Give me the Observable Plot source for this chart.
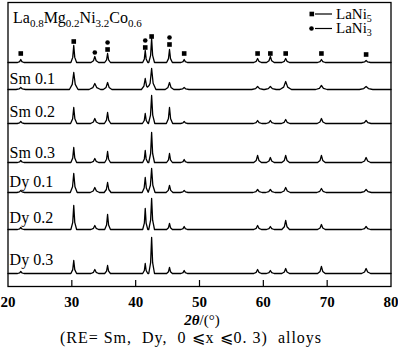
<!DOCTYPE html>
<html><head><meta charset="utf-8">
<script src="https://cdn.jsdelivr.net/npm/d3@7"></script>
<script src="https://cdn.jsdelivr.net/npm/@observablehq/plot@0.6"></script>
<style>
body{margin:0;background:#fff;}
#wrap{width:398px;height:358px;}
</style></head>
<body><div id="wrap"></div>
<script>
// peak positions (2θ, degrees) common to all patterns
const positions  = [22.0, 30.3, 33.6, 35.6, 41.5, 42.5, 45.3, 47.6, 59.1, 61.1, 63.5, 69.1, 76.1];
const halfWidths = [0.5, 0.45, 0.6, 0.45, 0.4, 0.45, 0.45, 0.5, 0.6, 0.6, 0.6, 0.6, 0.7];
const samples    = ["parent", "Sm 0.1", "Sm 0.2", "Sm 0.3", "Dy 0.1", "Dy 0.2", "Dy 0.3"];
const offsets    = [224, 197, 163, 124, 94, 57, 13];
const broadening = [1, 1.5, 1.1, 1, 1.2, 1, 1];
const labelGap   = [0, 6, 7, 5, 6, 7, 9];
// peak heights (arb. units) per sample
const hParent = [3, 17, 6, 9, 12, 24, 13, 3, 4, 6, 4, 3, 2];
const hSm01   = [2, 17, 6, 7, 11, 21, 7, 2, 3, 3, 8, 4, 3];
const hSm02   = [2, 16, 5, 11, 10, 28, 16, 2, 3, 3, 4, 5, 3];
const hSm03   = [2, 15, 4, 11, 12, 30, 9, 3, 7, 5, 7, 7, 5];
const hDy01   = [2, 19, 5, 10, 15, 24, 7, 2, 3, 3, 5, 4, 3];
const hDy02   = [2, 24, 4, 15, 21, 31, 6, 3, 4, 3, 9, 5, 3];
const hDy03   = [2, 13, 4, 8, 10, 36, 6, 3, 4, 3, 5, 7, 5];
const heights = [hParent, hSm01, hSm02, hSm03, hDy01, hDy02, hDy03];
// phase markers above the top pattern
const sqX = [22, 30.3, 35.6, 41.5, 42.5, 45.3, 47.6, 59.1, 61.1, 63.5, 69.1, 76.1];
const sqY = [233, 245, 237, 239, 250, 242, 233, 233, 233, 233, 233, 232];
const dotX = [33.6, 35.6, 41.5, 45.3];
const dotY = [234, 244, 246, 249];
const xTicks = [20, 30, 40, 50, 60, 70, 80];
const innerTicks = [30, 40, 50, 60, 70];

function shape(x, p, w, h) {
  const d = Math.abs(x - p);
  if (d >= w) return 0;
  if (d <= w * 0.35) return h * (1 - (d / (w * 0.35)) * 0.7);
  return h * 0.3 * (w - d) / (w * 0.65);
}
const traces = [];
samples.forEach((name, k) => {
  const pts = new Set([20, 80]);
  positions.forEach((p, i) => {
    const w = halfWidths[i] * broadening[k];
    [p - w, p - w * 0.35, p, p + w * 0.35, p + w].forEach(v => pts.add(+v.toFixed(4)));
  });
  const xs = [...pts].sort((a, b) => a - b);
  xs.forEach(x => traces.push({
    sample: name, x,
    y: offsets[k] + d3.sum(positions, (p, i) => shape(x, p, halfWidths[i] * broadening[k], heights[k][i]))
  }));
});
const squares = sqX.map((x, i) => ({x, y: sqY[i]}));
const circles = dotX.map((x, i) => ({x, y: dotY[i]}));
const labels = samples.slice(1).map((s, i) => ({text: s, x: 20.25, y: offsets[i + 1] + labelGap[i + 1]}));

const serif = '"Liberation Serif", "Times New Roman", serif';
const plot = Plot.plot({
  width: 398, height: 358,
  marginLeft: 7.5, marginRight: 7.5, marginTop: 2, marginBottom: 72,
  style: {fontFamily: serif, fontSize: "15px", background: "#fff", color: "#000"},
  x: {domain: [20, 80]},
  y: {domain: [0, 284], axis: null},
  marks: [
    Plot.frame({stroke: "#000", strokeWidth: 1.3}),
    Plot.ruleX(innerTicks, {y1: 0, y2: 6, stroke: "#000", strokeWidth: 1.2}),
    Plot.line(traces, {x: "x", y: "y", z: "sample", stroke: "#000", strokeWidth: 1.3}),
    Plot.dot(squares, {x: "x", y: "y", symbol: "square", r: 2.6, fill: "#000", stroke: "none"}),
    Plot.dot(circles, {x: "x", y: "y", symbol: "circle", r: 2.3, fill: "#000", stroke: "none"}),
    Plot.text(labels, {x: "x", y: "y", text: "text", textAnchor: "start", lineAnchor: "bottom", fontSize: 16, fill: "#000"}),
    Plot.axisX({ticks: xTicks, tickSize: 0, tickPadding: 10, label: null, fontSize: 15, fontWeight: "bold"})
  ]
});
document.getElementById("wrap").appendChild(plot);

const svg = d3.select(plot);
// title with subscripts
const t = svg.append("text").attr("x", 13).attr("y", 23).attr("text-anchor", "start").attr("font-family", serif).attr("font-size", 16).attr("fill", "#000");
[["La", false], ["0.8", true], ["Mg", false], ["0.2", true], ["Ni", false], ["3.2", true], ["Co", false], ["0.6", true]].forEach(([s, sub]) => {
  t.append("tspan").text(s).attr("font-size", sub ? 11 : 16).attr("dy", sub ? 4 : -4);
});
t.select("tspan").attr("dy", 0);
// legend
const legendRows = [["square", "5", 14], ["circle", "3", 28.5]];
legendRows.forEach(([sym, n, yy]) => {
  if (sym === "square") svg.append("rect").attr("x", 309.5).attr("y", yy - 2.3).attr("width", 4.6).attr("height", 4.6).attr("fill", "#000");
  else svg.append("circle").attr("cx", 311.5).attr("cy", yy).attr("r", 2.3).attr("fill", "#000");
  svg.append("line").attr("x1", 315).attr("x2", 332).attr("y1", yy).attr("y2", yy).attr("stroke", "#000").attr("stroke-width", 1.2);
  const lt = svg.append("text").attr("x", 336).attr("y", yy + 4.5).attr("text-anchor", "start").attr("font-family", serif).attr("font-size", 15).attr("fill", "#000");
  lt.append("tspan").text("LaNi");
  lt.append("tspan").text(n).attr("font-size", 10).attr("dy", 3);
});
// x label
const xl = svg.append("text").attr("x", 202).attr("y", 325).attr("text-anchor", "middle").attr("font-family", serif).attr("font-size", 15).attr("fill", "#000");
xl.append("tspan").text("2θ").attr("font-weight", "bold").attr("font-style", "italic");
xl.append("tspan").text("/(°)");
// caption
svg.append("text").attr("x", 191).attr("y", 343).attr("text-anchor", "middle").attr("font-family", serif).attr("font-size", 16).attr("letter-spacing", 1).attr("fill", "#000")
  .attr("xml:space", "preserve").style("white-space", "pre")
  .text("(RE= Sm,  Dy,  0 ⩽x ⩽0. 3)  alloys");
</script>
</body></html>
